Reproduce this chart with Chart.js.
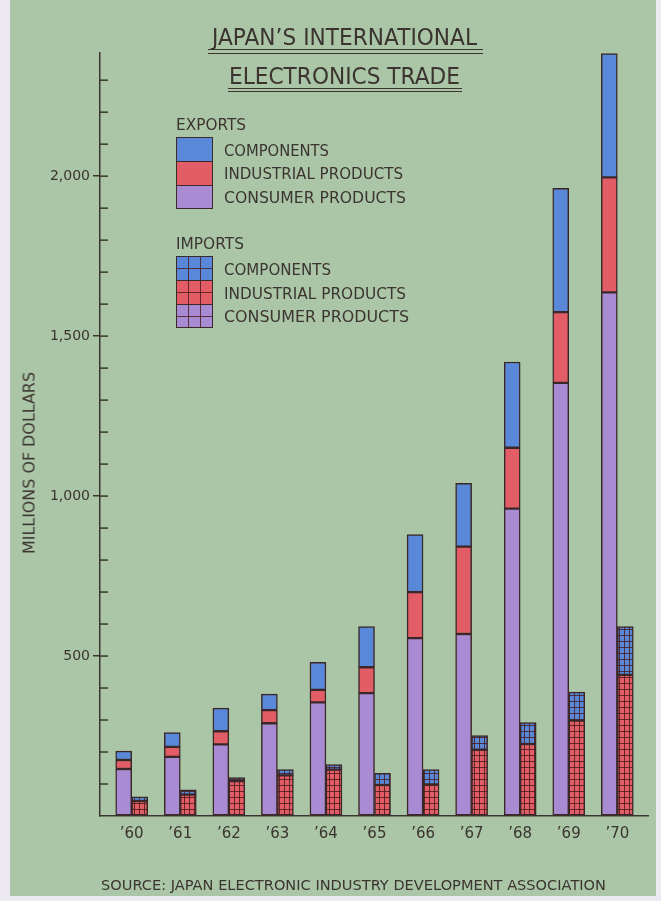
<!DOCTYPE html>
<html>
<head>
<meta charset="utf-8">
<script src="https://cdn.jsdelivr.net/npm/chart.js@4.4.1/dist/chart.umd.min.js"></script>
<style>
html,body{margin:0;padding:0;width:661px;height:901px;overflow:hidden;background:#ece9f2;}
#panel{position:absolute;left:10px;top:0;width:646px;height:896px;background:#abc6a6;}
#c{position:absolute;left:0;top:0;}
.t{position:absolute;white-space:nowrap;font-family:"DejaVu Sans",sans-serif;color:#3b3430;line-height:1;transform-origin:0 0;}
.rule{position:absolute;height:1.4px;background:#3b3430;}
.sw{position:absolute;border:1.5px solid #3a2a2a;box-sizing:border-box;}
.sw div{box-sizing:border-box;height:33.333%;}
.sw div + div{border-top:1.5px solid #3a2a2a;}
</style>
</head>
<body>
<div id="panel"></div>
<canvas id="c" width="661" height="901"></canvas>
<script>
// ---- data (millions of dollars) ----
const years = ['’60','’61','’62','’63','’64','’65','’66','’67','’68','’69','’70'];
const expConsumer   = [147, 185, 224, 290, 355, 384, 556, 569, 961, 1354, 1637];
const expIndustrial = [28, 31, 41, 41, 39, 81, 144, 273, 190, 221, 359];
const expComponents = [28, 45, 72, 50, 86, 127, 180, 198, 268, 387, 387];
const impConsumer   = [0, 0, 0, 0, 0, 0, 0, 0, 0, 0, 0];
const impIndustrial = [47, 67, 109, 127, 145, 97, 99, 207, 225, 298, 441];
const impComponents = [13, 15, 11, 18, 16, 36, 46, 44, 67, 89, 151];
const yMajorTicks = [500, 1000, 1500, 2000];

const INK = '#3b3430';
const EDGE = '#3a2828';
const BLUE = '#5a88d8';
const RED = '#e25d66';
const PURPLE = '#a88bd2';
const FONT = '"DejaVu Sans", sans-serif';

function hatch(color) {
  const p = document.createElement('canvas');
  p.width = 5; p.height = 6;
  const g = p.getContext('2d');
  g.fillStyle = color; g.fillRect(0, 0, 5, 6);
  g.fillStyle = 'rgba(70,25,25,0.8)';
  g.fillRect(4, 0, 1, 6);
  g.fillRect(0, 5, 5, 1);
  return g.createPattern(p, 'repeat');
}

const pts = arr => arr.map((v, i) => ({x: i, y: v}));

const innerTicks = {
  id: 'innerTicks',
  afterDraw(chart) {
    const y = chart.scales.y, ctx = chart.ctx, x0 = chart.chartArea.left;
    ctx.save();
    ctx.strokeStyle = INK; ctx.lineWidth = 1.5;
    for (const t of y.ticks) {
      if (t.value <= 0 || t.value % 100 !== 0) continue;
      const py = y.getPixelForValue(t.value);
      ctx.beginPath(); ctx.moveTo(x0, py); ctx.lineTo(x0 + 8, py); ctx.stroke();
    }
    ctx.restore();
  }
};

const common = {borderColor: EDGE, borderWidth: 1.5, borderSkipped: false, barThickness: 16};

new Chart(document.getElementById('c'), {
  type: 'bar',
  data: {
    datasets: [
      Object.assign({label: 'Exports consumer products', data: pts(expConsumer), backgroundColor: PURPLE, stack: 'exp'}, common),
      Object.assign({label: 'Exports industrial products', data: pts(expIndustrial), backgroundColor: RED, stack: 'exp'}, common),
      Object.assign({label: 'Exports components', data: pts(expComponents), backgroundColor: BLUE, stack: 'exp'}, common),
      Object.assign({label: 'Imports consumer products', data: pts(impConsumer), backgroundColor: hatch(PURPLE), stack: 'imp'}, common, {borderWidth: 0}),
      Object.assign({label: 'Imports industrial products', data: pts(impIndustrial), backgroundColor: hatch(RED), stack: 'imp'}, common),
      Object.assign({label: 'Imports components', data: pts(impComponents), backgroundColor: hatch(BLUE), stack: 'imp'}, common)
    ]
  },
  options: {
    responsive: false,
    animation: false,
    events: [],
    layout: {padding: {top: 53, right: 13, bottom: 45, left: 0}},
    plugins: {legend: {display: false}, tooltip: {enabled: false}, title: {display: false}},
    scales: {
      x: {
        type: 'linear', offset: false, stacked: true,
        min: -0.653, max: 10.632,
        grid: {display: false, drawTicks: false},
        border: {display: true, color: INK, width: 1.5},
        ticks: {
          stepSize: 1, autoSkip: false, includeBounds: false, maxRotation: 0, padding: 9,
          color: INK, font: {family: FONT, size: 15},
          callback: v => (Number.isInteger(v) && v >= 0 && v < years.length) ? years[v] : ''
        },
        afterFit: s => { s.height = 40; }
      },
      y: {
        stacked: true, min: 0, max: 2385,
        grid: {
          drawOnChartArea: false, drawTicks: true, tickLength: 7, lineWidth: 1.5,
          color: c => (c.tick && yMajorTicks.includes(c.tick.value)) ? INK : 'rgba(0,0,0,0)'
        },
        border: {display: true, color: INK, width: 1.5},
        ticks: {
          stepSize: 100, autoSkip: false, includeBounds: false, padding: 3,
          color: INK, font: {family: FONT, size: 14},
          callback: v => yMajorTicks.includes(v) ? v.toLocaleString('en-US') : ''
        },
        afterFit: s => { s.width = 100; }
      }
    }
  },
  plugins: [innerTicks]
});

// ---- text & legend overlay ----
function addText(txt, left, baseline, size, width) {
  const s = document.createElement('span');
  s.className = 't'; s.textContent = txt;
  s.style.fontSize = size + 'px';
  s.style.left = left + 'px';
  s.style.top = (baseline - 0.846 * size) + 'px';
  document.body.appendChild(s);
  const w = s.getBoundingClientRect().width;
  s.style.transform = 'scaleX(' + (width / w) + ')';
  return s;
}
function addRule(left, top, width) {
  const d = document.createElement('div');
  d.className = 'rule';
  d.style.left = left + 'px'; d.style.top = top + 'px'; d.style.width = width + 'px';
  document.body.appendChild(d);
}
function addSwatch(left, top, w, h, fills) {
  const d = document.createElement('div');
  d.className = 'sw';
  d.style.left = left + 'px'; d.style.top = top + 'px';
  d.style.width = w + 'px'; d.style.height = h + 'px';
  fills.forEach(f => { const b = document.createElement('div'); b.style.background = f; d.appendChild(b); });
  document.body.appendChild(d);
}
const grid = c => 'linear-gradient(to right, transparent 11px, rgba(70,25,25,0.8) 11px) 0 0/12px 12px, linear-gradient(to bottom, transparent 11px, rgba(70,25,25,0.8) 11px) 0 0/12px 12px, ' + c;

addText('JAPAN’S INTERNATIONAL', 212, 45, 23, 265);
addRule(208, 48.6, 275); addRule(208, 52.6, 275);
addText('ELECTRONICS TRADE', 229, 84, 23, 231);
addRule(228, 88, 234); addRule(228, 91, 234);

addText('EXPORTS', 176, 130.7, 15, 70);
addSwatch(176, 137, 37, 72, [BLUE, RED, PURPLE]);
addText('COMPONENTS', 224, 156.7, 16, 105);
addText('INDUSTRIAL PRODUCTS', 224, 179.3, 16, 179);
addText('CONSUMER PRODUCTS', 224, 203.3, 16, 182);

addText('IMPORTS', 176, 250, 15, 68);
addSwatch(176, 256, 37, 72, [grid(BLUE), grid(RED), grid(PURPLE)]);
addText('COMPONENTS', 224, 275.7, 16, 107);
addText('INDUSTRIAL PRODUCTS', 224, 299.3, 16, 182);
addText('CONSUMER PRODUCTS', 224, 322.7, 16, 185);

addText('SOURCE: JAPAN ELECTRONIC INDUSTRY DEVELOPMENT ASSOCIATION', 101, 890, 14, 505);

(function () {
  const s = document.createElement('span');
  s.className = 't'; s.textContent = 'MILLIONS OF DOLLARS';
  s.style.fontSize = '16px';
  document.body.appendChild(s);
  const w = s.getBoundingClientRect().width;
  s.style.left = (29.2 - w / 2) + 'px';
  s.style.top = (462.5 - 8) + 'px';
  s.style.transformOrigin = '50% 50%';
  s.style.transform = 'rotate(-90deg) scaleX(' + (182 / w) + ')';
})();
</script>
</body>
</html>
